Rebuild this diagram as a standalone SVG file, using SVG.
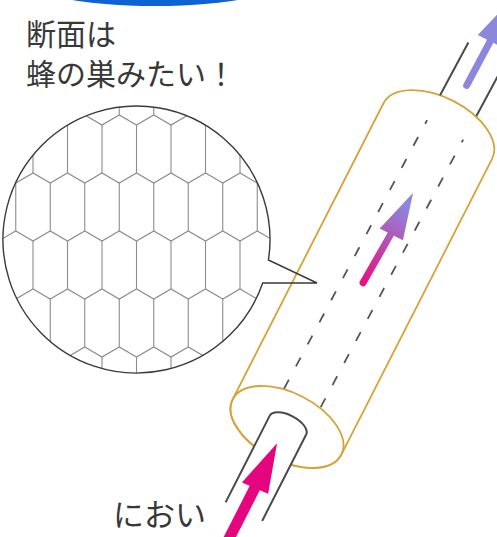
<svg xmlns="http://www.w3.org/2000/svg" width="497" height="537" viewBox="0 0 497 537">
  <defs>
    <style>
      .label { font-family: "Noto Sans CJK JP", "Noto Sans", sans-serif; font-size: 30px; fill: #383838; }
      .shell { fill: #fff; stroke: #d8a236; stroke-width: 1.8; }
      .rim { fill: none; stroke: #d8a236; stroke-width: 1.8; }
      .pipe { fill: none; stroke: #4a4a4a; stroke-width: 2; }
      .dash { fill: none; stroke: #555; stroke-width: 1.8; stroke-dasharray: 10 15; }
      .comb { fill: none; stroke: #8c8c8c; stroke-width: 1.1; }
      .bubble { fill: none; stroke: #3a3a3a; stroke-width: 1.4; stroke-linejoin: miter; }
    </style>
    <clipPath id="lens">
      <circle cx="136.5" cy="239.5" r="133.5"/>
    </clipPath>
    <linearGradient id="flow" gradientUnits="userSpaceOnUse" x1="2" y1="-163" x2="6" y2="-250">
      <stop offset="0" stop-color="#e8107f"/>
      <stop offset="1" stop-color="#8c86dc"/>
    </linearGradient>
  </defs>

  <!-- blue banner edge at the top -->
  <ellipse id="banner" cx="155" cy="-24" rx="138" ry="30" fill="#0d62d6"/>

  <!-- caption -->
  <g id="caption">
    <text class="label" x="26" y="45">断面は</text>
    <text class="label" x="26" y="85">蜂の巣みたい！</text>
  </g>

  <!-- filter cylinder, drawn in its own rotated frame -->
  <g id="cylinder" transform="translate(287 427) rotate(27)">
    <path class="shell" d="M-61 0 V-332 A61 34 0 0 1 61 -332 V0 A61 34 0 0 1 -61 0 Z"/>
    <ellipse class="rim" cx="0" cy="0" rx="61" ry="34"/>
    <!-- channel walls inside -->
    <path class="dash" d="M-20 -33 L-14.5 -337 M21 -33 L26.5 -336"/>
    <!-- inlet pipe -->
    <path d="M-20.5 95 V-2 A20.5 10 0 0 1 20.5 -2 V95 Z" fill="#fff"/>
    <path class="pipe" d="M-20.5 95 V-2 A20.5 10 0 0 1 20.5 -2 V95"/>
    <!-- outlet pipe -->
    <path class="pipe" d="M-14.2 -365 L-13 -425 M27.6 -363 L29 -430"/>
  </g>

  <!-- flow arrows -->
  <g id="arrows" transform="translate(287 427) rotate(27)">
    <g id="arrow-in">
      <line x1="-1" y1="66" x2="-1" y2="150" stroke="#e5067f" stroke-width="11"/>
      <polygon points="-15,70 -1.5,19 13.5,68" fill="#e5067f"/>
    </g>
    <g id="arrow-mid">
      <line x1="2.3" y1="-163" x2="5" y2="-221" stroke="url(#flow)" stroke-width="7" stroke-linecap="round"/>
      <polygon points="-7.5,-219 6,-266 18.5,-219" fill="url(#flow)"/>
    </g>
    <g id="arrow-out">
      <line x1="5" y1="-386" x2="6" y2="-438" stroke="#8c86dc" stroke-width="7" stroke-linecap="round"/>
      <polygon points="-8,-436 6,-483 20,-436" fill="#8c86dc"/>
    </g>
  </g>

  <!-- honeycomb cross-section bubble -->
  <g id="section">
    <circle cx="136.5" cy="239.5" r="133.5" fill="#fff"/>
    <g clip-path="url(#lens)" class="comb">
      <path d="M50.25 95v20M84.75 95v20M119.25 95v20M153.75 95v20M188.25 95v20M222.75 95v20"/>
      <path d="M-1.5 125v48M33 125v48M67.5 125v48M102 125v48M136.5 125v48M171 125v48M205.5 125v48M240 125v48M274.5 125v48"/>
      <path d="M15.75 183v48M50.25 183v48M84.75 183v48M119.25 183v48M153.75 183v48M188.25 183v48M222.75 183v48M257.25 183v48"/>
      <path d="M-1.5 241v48M33 241v48M67.5 241v48M102 241v48M136.5 241v48M171 241v48M205.5 241v48M240 241v48M274.5 241v48"/>
      <path d="M15.75 299v48M50.25 299v48M84.75 299v48M119.25 299v48M153.75 299v48M188.25 299v48M222.75 299v48M257.25 299v48"/>
      <path d="M-1.5 357v30M33 357v30M67.5 357v30M102 357v30M136.5 357v30M171 357v30M205.5 357v30M240 357v30M274.5 357v30"/>
      <path d="M-1.5 125l17.25 -10l17.25 10l17.25 -10l17.25 10l17.25 -10l17.25 10l17.25 -10l17.25 10l17.25 -10l17.25 10l17.25 -10l17.25 10l17.25 -10l17.25 10l17.25 -10l17.25 10l17.25 -10l17.25 10"/>
      <path d="M-1.5 173l17.25 10l17.25 -10l17.25 10l17.25 -10l17.25 10l17.25 -10l17.25 10l17.25 -10l17.25 10l17.25 -10l17.25 10l17.25 -10l17.25 10l17.25 -10l17.25 10l17.25 -10l17.25 10l17.25 -10"/>
      <path d="M-1.5 241l17.25 -10l17.25 10l17.25 -10l17.25 10l17.25 -10l17.25 10l17.25 -10l17.25 10l17.25 -10l17.25 10l17.25 -10l17.25 10l17.25 -10l17.25 10l17.25 -10l17.25 10l17.25 -10l17.25 10"/>
      <path d="M-1.5 289l17.25 10l17.25 -10l17.25 10l17.25 -10l17.25 10l17.25 -10l17.25 10l17.25 -10l17.25 10l17.25 -10l17.25 10l17.25 -10l17.25 10l17.25 -10l17.25 10l17.25 -10l17.25 10l17.25 -10"/>
      <path d="M-1.5 357l17.25 -10l17.25 10l17.25 -10l17.25 10l17.25 -10l17.25 10l17.25 -10l17.25 10l17.25 -10l17.25 10l17.25 -10l17.25 10l17.25 -10l17.25 10l17.25 -10l17.25 10l17.25 -10l17.25 10"/>
    </g>
    <path class="bubble" d="M262.7 283 A133.5 133.5 0 1 1 268.4 260 L317 283 Z"/>
  </g>

  <!-- inlet label -->
  <text id="smell" class="label" x="113" y="526" style="font-size:31px">におい</text>
</svg>
